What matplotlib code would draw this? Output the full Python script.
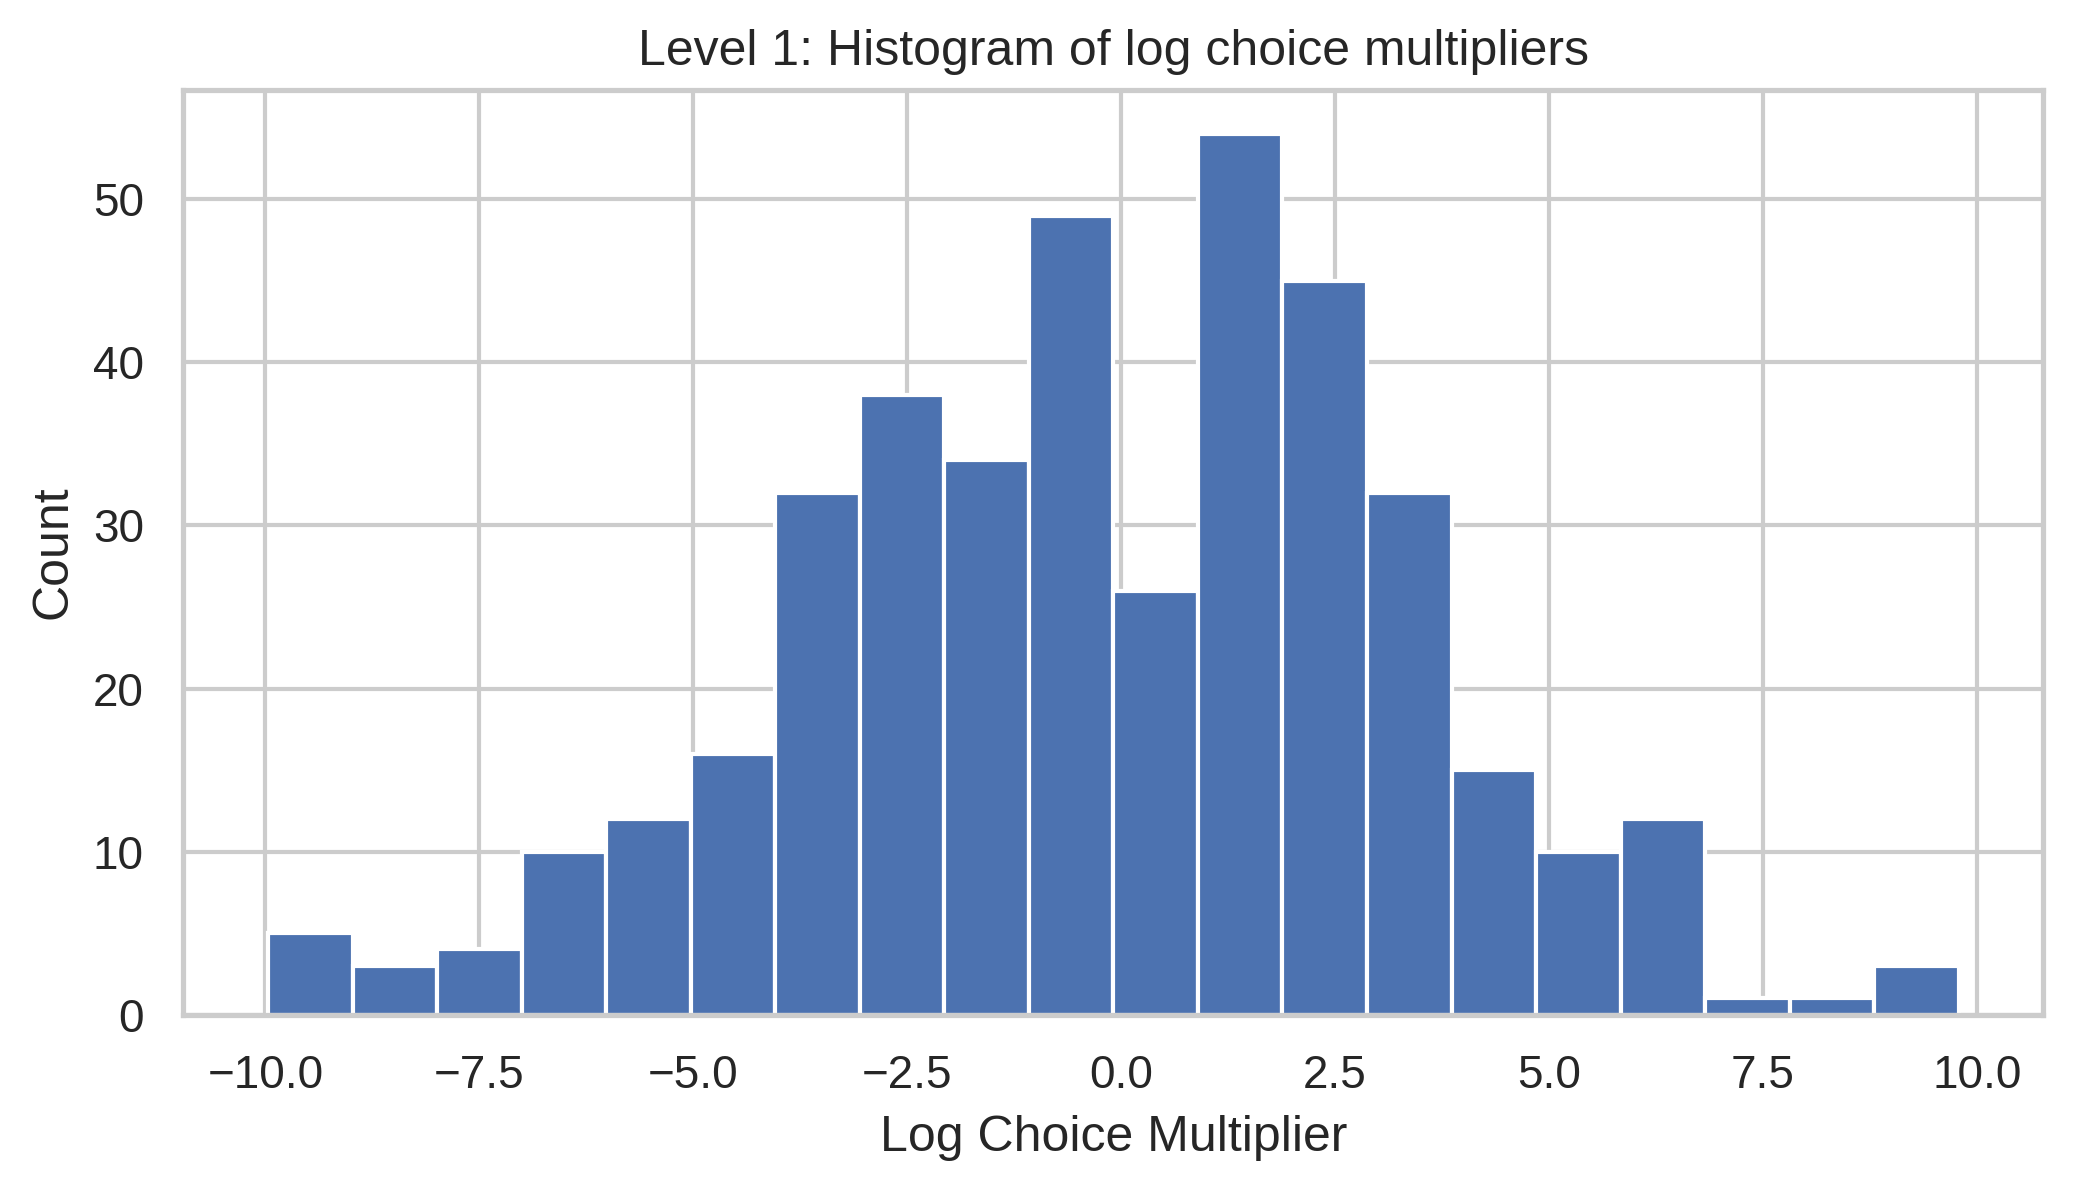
import numpy as np
import matplotlib
matplotlib.use("Agg")
import matplotlib.pyplot as plt
import seaborn as sns

# histogram counts (20 equal bins)
counts = [5, 3, 4, 10, 12, 16, 32, 38, 34, 49, 26, 54, 45, 32, 15, 10, 12, 1, 1, 3]
bin_lo, bin_hi = -9.97, 9.79
edges = np.linspace(bin_lo, bin_hi, len(counts) + 1)
centers = (edges[:-1] + edges[1:]) / 2

sns.set_theme(style="whitegrid")
plt.rcParams['font.family'] = ['Liberation Sans', 'DejaVu Sans']

fig = plt.figure(figsize=(6.91, 3.97), dpi=300)
ax = fig.add_axes([0.0885, 0.148, 0.8972, 0.7765])
ax.hist(centers, bins=edges, weights=counts, color="#4C72B0", edgecolor="white", linewidth=1.0)

ax.set_ylim(0, 56.7)
ax.set_xticks([-10, -7.5, -5, -2.5, 0, 2.5, 5, 7.5, 10])
ax.tick_params(labelsize=11)
ax.set_xlabel("Log Choice Multiplier", fontsize=12)
ax.set_ylabel("Count", fontsize=12)
ax.set_title("Level 1: Histogram of log choice multipliers", fontsize=12)

fig.savefig("out.png", dpi=300)
